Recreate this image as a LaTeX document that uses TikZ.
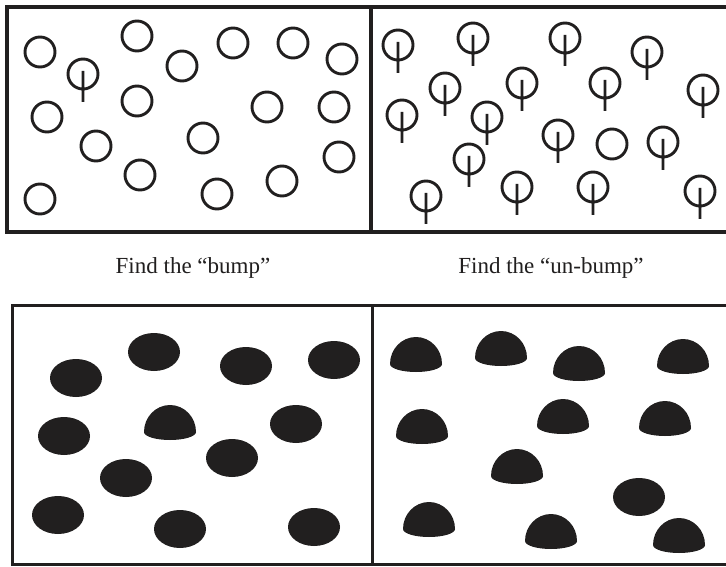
\documentclass[tikz,border=0pt]{standalone}
\usepackage{fontspec}
\setmainfont{Liberation Serif}
\usepackage{tikz}
\definecolor{ink}{rgb}{0.13,0.12,0.12}
\newcommand{\ring}[2]{\draw[ink,line width=1.45pt] (#1,#2) circle[radius=15];}
\newcommand{\pin}[2]{\draw[ink,line width=1.45pt] (#1,#2) circle[radius=15] (#1,#2-3) -- (#1,#2+28);}
\newcommand{\blob}[2]{\fill[ink] (#1,#2) ellipse[x radius=26,y radius=19];}
\newcommand{\dome}[2]{\fill[ink] (#1-26,#2) arc[start angle=180,end angle=360,x radius=26,y radius=27] arc[start angle=0,end angle=180,x radius=26,y radius=8] -- cycle;}

\begin{document}
\begin{tikzpicture}[x=0.5pt,y=-0.5pt]
\clip (0,0) rectangle (726,566);
\fill[white] (0,0) rectangle (726,566);
% frames
\draw[ink,line width=1.7pt] (730,7) -- (7,7) -- (7,232) -- (730,232) (371,7) -- (371,232);
\draw[ink,line width=1.5pt] (730,305) -- (12,305) -- (12,564) -- (730,564) (372,305) -- (372,564);
% find the bump
\foreach \x/\y in {40/52,137/36,182/66,233/43,293/43,342/59,47/117,137/101,267/107,334/107,
  96/146,203/138,339/157,140/175,282/181,40/199,217/194}
  {\ring{\x}{\y}}
\pin{83}{74}
% find the un-bump
\foreach \x/\y in {398/45,473/38,565/38,647/52,445/88,522/83,605/83,703/90,402/115,487/117,
  558/135,663/142,469/159,426/196,517/187,593/187,700/191}
  {\pin{\x}{\y}}
\ring{612}{144}
% filled, left
\foreach \x/\y in {76/378,154/352,246/366,334/360,64/436,296/424,232/458,126/478,58/515,180/529,314/527}
  {\blob{\x}{\y}}
\dome{170}{432}
% filled, right
\foreach \x/\y in {416/364,501/358,579/373,683/366,422/436,563/426,665/428,517/476,429/529,551/541,679/545}
  {\dome{\x}{\y}}
\blob{639}{497}
\node[text=ink,font=\fontsize{11.5}{13}\selectfont] (bumplabel) at (193,268) {Find the “bump”};
\node[text=ink,font=\fontsize{11.5}{13}\selectfont] (unbumplabel) at (551,268) {Find the “un-bump”};
\end{tikzpicture}
\end{document}
